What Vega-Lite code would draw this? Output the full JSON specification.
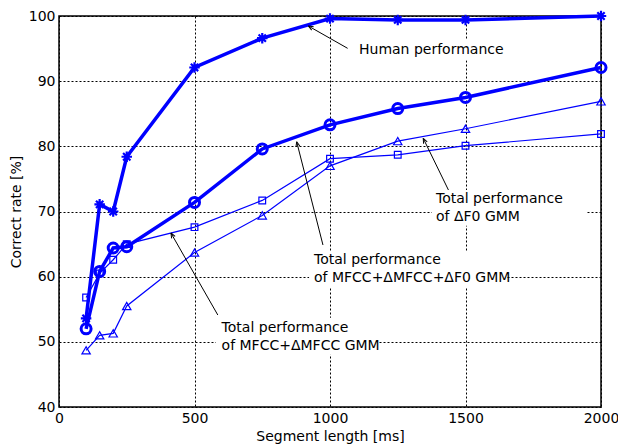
{
  "$schema": "https://vega.github.io/schema/vega-lite/v6.json",
  "width": 542,
  "height": 391,
  "autosize": {"type": "none"},
  "padding": {"left": 59, "top": 16, "right": 17, "bottom": 41},
  "background": "white",
  "config": {
    "font": "DejaVu Sans",
    "view": {"stroke": "black", "strokeWidth": 1.5},
    "axis": {
      "labelFont": "DejaVu Sans",
      "labelFontSize": 14,
      "labelColor": "black",
      "titleFont": "DejaVu Sans",
      "titleFontSize": 14,
      "titleFontWeight": "normal",
      "titleColor": "black",
      "grid": true,
      "gridColor": "black",
      "gridDash": [2, 2],
      "gridWidth": 1,
      "gridOpacity": 1,
      "domain": false,
      "ticks": false,
      "labelPadding": 4,
      "labelFlush": false
    }
  },
  "datasets": {
    "series": [
      {"series": "human", "x": 100, "y": 53.6},
      {"series": "human", "x": 150, "y": 71.1},
      {"series": "human", "x": 200, "y": 70.0},
      {"series": "human", "x": 250, "y": 78.4},
      {"series": "human", "x": 500, "y": 92.1},
      {"series": "human", "x": 750, "y": 96.6},
      {"series": "human", "x": 1000, "y": 99.6},
      {"series": "human", "x": 1250, "y": 99.4},
      {"series": "human", "x": 1500, "y": 99.4},
      {"series": "human", "x": 2000, "y": 100},
      {"series": "mix", "x": 100, "y": 52.0},
      {"series": "mix", "x": 150, "y": 60.8},
      {"series": "mix", "x": 200, "y": 64.4},
      {"series": "mix", "x": 250, "y": 64.6},
      {"series": "mix", "x": 500, "y": 71.4},
      {"series": "mix", "x": 750, "y": 79.6},
      {"series": "mix", "x": 1000, "y": 83.3},
      {"series": "mix", "x": 1250, "y": 85.8},
      {"series": "mix", "x": 1500, "y": 87.5},
      {"series": "mix", "x": 2000, "y": 92.1},
      {"series": "mfcc", "x": 100, "y": 56.8},
      {"series": "mfcc", "x": 150, "y": 60.5},
      {"series": "mfcc", "x": 200, "y": 62.6},
      {"series": "mfcc", "x": 250, "y": 65.0},
      {"series": "mfcc", "x": 500, "y": 67.6},
      {"series": "mfcc", "x": 750, "y": 71.7},
      {"series": "mfcc", "x": 1000, "y": 78.1},
      {"series": "mfcc", "x": 1250, "y": 78.7},
      {"series": "mfcc", "x": 1500, "y": 80.1},
      {"series": "mfcc", "x": 2000, "y": 81.9},
      {"series": "f0", "x": 100, "y": 48.7},
      {"series": "f0", "x": 150, "y": 51.0},
      {"series": "f0", "x": 200, "y": 51.3},
      {"series": "f0", "x": 250, "y": 55.5},
      {"series": "f0", "x": 500, "y": 63.7},
      {"series": "f0", "x": 750, "y": 69.4},
      {"series": "f0", "x": 1000, "y": 77.0},
      {"series": "f0", "x": 1250, "y": 80.8},
      {"series": "f0", "x": 1500, "y": 82.7},
      {"series": "f0", "x": 2000, "y": 86.9}
    ],
    "boxes": [
      {"x": 1092, "x2": 1672, "y": 96.3, "y2": 93.2},
      {"x": 923, "x2": 1649, "y": 63.9, "y2": 58.4},
      {"x": 579, "x2": 1177, "y": 53.7, "y2": 48.0},
      {"x": 1376, "x2": 1945, "y": 73.3, "y2": 67.8}
    ],
    "arrows": [
      {"arrow": "a1", "x": 920, "y": 98.47, "x2": 1065, "y2": 95.04},
      {"arrow": "a2", "x": 877, "y": 80.71, "x2": 974, "y2": 64.86},
      {"arrow": "a3", "x": 413, "y": 66.7, "x2": 586, "y2": 54.12},
      {"arrow": "a4", "x": 1344, "y": 81.23, "x2": 1437, "y2": 73.3}
    ],
    "labels": [
      {"label": ["Human performance"], "x": 1107, "y": 94.78},
      {"label": ["Total performance", "of MFCC+ΔMFCC+ΔF0 GMM"], "x": 941, "y": 62.56},
      {"label": ["Total performance", "of MFCC+ΔMFCC GMM"], "x": 600, "y": 52.17},
      {"label": ["Total performance", "of ΔF0 GMM"], "x": 1391, "y": 71.92}
    ]
  },
  "encoding": {
    "x": {
      "field": "x",
      "type": "quantitative",
      "scale": {"domain": [0, 2000], "nice": false, "zero": false},
      "axis": {"values": [0, 500, 1000, 1500, 2000], "format": "d", "title": "Segment length [ms]", "titlePadding": 4}
    },
    "y": {
      "field": "y",
      "type": "quantitative",
      "scale": {"domain": [40, 100], "nice": false, "zero": false},
      "axis": {"values": [40, 50, 60, 70, 80, 90, 100], "format": "d", "title": "Correct rate [%]", "titlePadding": 5}
    }
  },
  "layer": [
    {
      "data": {"name": "boxes"},
      "mark": {"type": "rect", "fill": "white", "stroke": null},
      "encoding": {"x2": {"field": "x2"}, "y2": {"field": "y2"}}
    },
    {
      "data": {"name": "series"},
      "transform": [{"filter": {"field": "series", "oneOf": ["mfcc", "f0"]}}],
      "mark": {"type": "line", "color": "#0000ff", "strokeWidth": 1.2},
      "encoding": {"detail": {"field": "series"}}
    },
    {
      "data": {"name": "series"},
      "transform": [{"filter": {"field": "series", "oneOf": ["human", "mix"]}}],
      "mark": {"type": "line", "color": "#0000ff", "strokeWidth": 3.5},
      "encoding": {"detail": {"field": "series"}}
    },
    {
      "data": {"name": "series"},
      "transform": [{"filter": {"field": "series", "equal": "human"}}],
      "mark": {"type": "point", "shape": "M-1,0L1,0M0,-1L0,1M-0.7,-0.7L0.7,0.7M-0.7,0.7L0.7,-0.7", "filled": false, "stroke": "#0000ff", "strokeWidth": 2.2, "size": 110, "opacity": 1}
    },
    {
      "data": {"name": "series"},
      "transform": [{"filter": {"field": "series", "equal": "mix"}}],
      "mark": {"type": "point", "shape": "circle", "filled": false, "stroke": "#0000ff", "strokeWidth": 3, "size": 100, "opacity": 1}
    },
    {
      "data": {"name": "series"},
      "transform": [{"filter": {"field": "series", "equal": "mfcc"}}],
      "mark": {"type": "point", "shape": "square", "filled": false, "stroke": "#0000ff", "strokeWidth": 1.2, "size": 45, "opacity": 1}
    },
    {
      "data": {"name": "series"},
      "transform": [{"filter": {"field": "series", "equal": "f0"}}],
      "mark": {"type": "point", "shape": "triangle-up", "filled": false, "stroke": "#0000ff", "strokeWidth": 1.2, "size": 70, "opacity": 1}
    },
    {
      "data": {"name": "arrows"},
      "mark": {"type": "rule", "color": "black", "strokeWidth": 1},
      "encoding": {"x2": {"field": "x2"}, "y2": {"field": "y2"}}
    },
    {
      "data": {"name": "arrows"},
      "transform": [{"filter": {"field": "arrow", "equal": "a1"}}],
      "mark": {"type": "point", "shape": "M0,0L-0.4,1M0,0L0.4,1", "filled": false, "stroke": "black", "strokeWidth": 1, "size": 100, "angle": 299.5, "opacity": 1}
    },
    {
      "data": {"name": "arrows"},
      "transform": [{"filter": {"field": "arrow", "equal": "a2"}}],
      "mark": {"type": "point", "shape": "M0,0L-0.4,1M0,0L0.4,1", "filled": false, "stroke": "black", "strokeWidth": 1, "size": 100, "angle": 345.7, "opacity": 1}
    },
    {
      "data": {"name": "arrows"},
      "transform": [{"filter": {"field": "arrow", "equal": "a3"}}],
      "mark": {"type": "point", "shape": "M0,0L-0.4,1M0,0L0.4,1", "filled": false, "stroke": "black", "strokeWidth": 1, "size": 100, "angle": 330.3, "opacity": 1}
    },
    {
      "data": {"name": "arrows"},
      "transform": [{"filter": {"field": "arrow", "equal": "a4"}}],
      "mark": {"type": "point", "shape": "M0,0L-0.4,1M0,0L0.4,1", "filled": false, "stroke": "black", "strokeWidth": 1, "size": 100, "angle": 334.2, "opacity": 1}
    },
    {
      "data": {"name": "labels"},
      "mark": {"type": "text", "align": "left", "baseline": "middle", "fontSize": 14, "lineHeight": 18, "font": "DejaVu Sans", "color": "black"},
      "encoding": {"text": {"field": "label"}}
    }
  ]
}
